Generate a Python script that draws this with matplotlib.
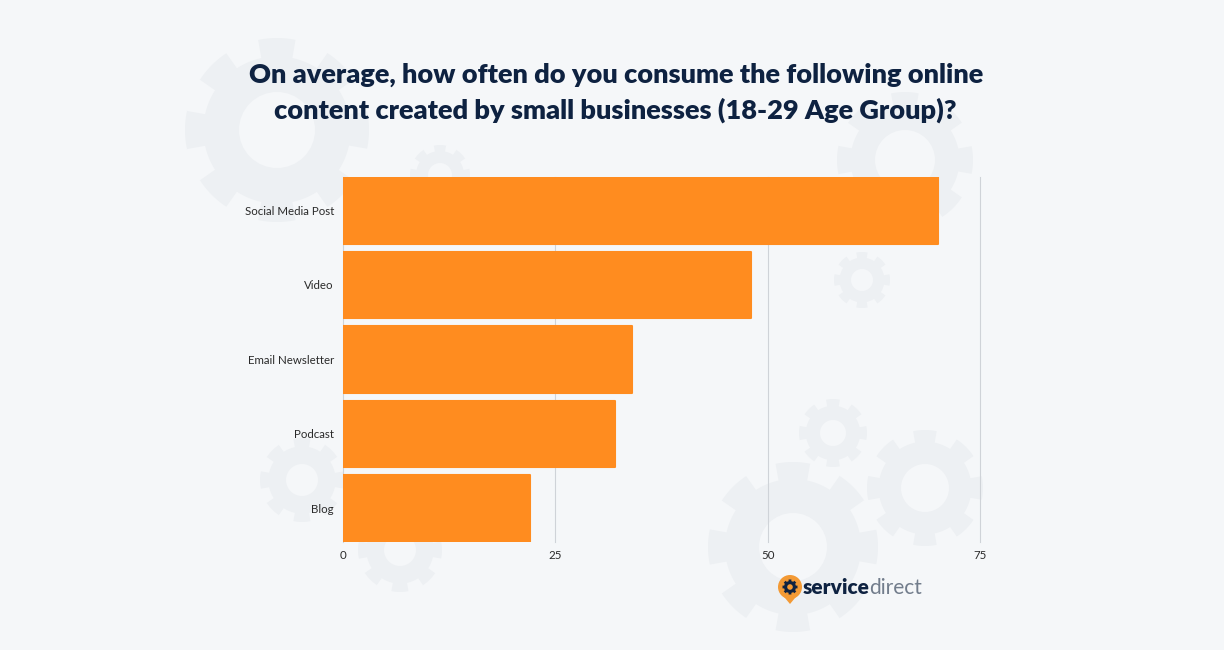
import matplotlib.pyplot as plt
import numpy as np
from matplotlib.patches import Polygon, Circle

categories = ['Social Media Post', 'Video', 'Email Newsletter', 'Podcast', 'Blog']
values = [70, 48, 34, 32, 22]
xticks = [0, 25, 50, 75]

title = ('On average, how often do you consume the following online\n'
         'content created by small businesses (18-29 Age Group)?')

bg = '#f5f7f9'
gear_col = '#edf0f3'
orange = '#ff8c1f'
navy = '#0e2241'

plt.rcParams['font.family'] = ['Lato', 'DejaVu Sans']

fig = plt.figure(figsize=(12.24, 6.5), dpi=100, facecolor=bg)

# background layer in pixel units (decoration only)
deco = fig.add_axes([0, 0, 1, 1], zorder=0)
deco.set_xlim(0, 1224)
deco.set_ylim(650, 0)
deco.axis('off')


def gear(a, cx, cy, R, hole, color, fill_hole, teeth=8, z=1):
    th = np.linspace(0, 2 * np.pi, 800)
    r = np.where(np.cos(teeth * th) > -0.1, R, R * 0.8)
    pts = np.column_stack([cx + r * np.cos(th), cy + r * np.sin(th)])
    a.add_patch(Polygon(pts, closed=True, color=color, lw=0, zorder=z))
    a.add_patch(Circle((cx, cy), hole, color=fill_hole, lw=0, zorder=z))


for cx, cy, R, h in [(277, 130, 92, 38), (905, 160, 68, 30), (862, 280, 28, 11),
                     (833, 433, 34, 13), (925, 488, 58, 24), (793, 547, 85, 34),
                     (302, 480, 42, 16), (400, 550, 42, 16), (440, 175, 30, 12)]:
    gear(deco, cx, cy, R, h, gear_col, bg)

ax = fig.add_axes([0.2802, 0.1662, 0.5205, 0.5615], zorder=2)
ax.set_facecolor('none')

y = np.arange(len(categories))
ax.barh(y, values, height=0.895, color=orange, edgecolor=orange, linewidth=1.5,
        joinstyle='round', zorder=3)
ax.set_ylim(len(categories) - 0.55, -0.45)
ax.set_xlim(0, 75)
ax.set_yticks(y)
ax.set_yticklabels(categories, fontsize=8.3, color='#2a2a2a')
ax.set_xticks(xticks)
ax.set_xticklabels([str(t) for t in xticks], fontsize=8.3, color='#2a2a2a')
ax.tick_params(axis='x', length=0, pad=6)
ax.tick_params(axis='y', length=0, pad=6.5)
ax.grid(axis='x', color='#cfd3d8', linewidth=0.8, zorder=0)
for gl in ax.get_xgridlines():
    gl.set_clip_on(False)
for s in ax.spines.values():
    s.set_visible(False)

fig.text(0.503, 0.857, title, ha='center', va='center', fontsize=19.5,
         fontweight='heavy', color=navy, linespacing=1.5)

# logo
top = fig.add_axes([0, 0, 1, 1], zorder=3)
top.set_xlim(0, 1224)
top.set_ylim(650, 0)
top.axis('off')
top.add_patch(Polygon([[780, 592], [800, 592], [790, 604]], closed=True,
                      color='#f39a35', lw=0))
top.add_patch(Circle((790, 587), 12, color='#f39a35', lw=0))
gear(top, 790, 587, 7.5, 2.8, navy, '#f39a35', teeth=8, z=4)
t1 = top.text(803, 588, 'service', ha='left', va='center', fontsize=15,
              fontweight='heavy', color=navy)
fig.canvas.draw()
bb = t1.get_window_extent()
x_end = top.transData.inverted().transform((bb.x1, bb.y0))[0]
top.text(x_end - 1, 588, 'direct', ha='left', va='center', fontsize=15,
         fontweight='normal', color='#727d8c')

fig.savefig('out.png', dpi=100, facecolor=bg)
